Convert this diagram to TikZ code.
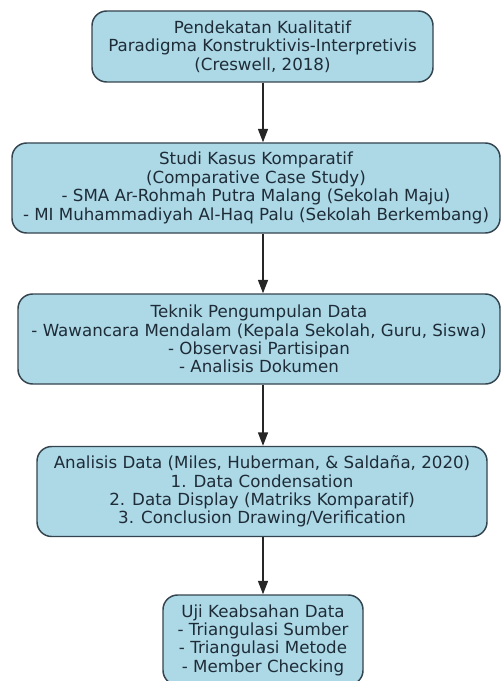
\documentclass[tikz,border=0pt]{standalone}
\usepackage{fontspec}
\setmainfont{DejaVu Sans}
\usetikzlibrary{arrows.meta}
\definecolor{boxfill}{HTML}{ADD8E6}
\definecolor{boxline}{HTML}{34444F}
\definecolor{boxtext}{HTML}{1E2C38}

\begin{document}
\begin{tikzpicture}[x=0.75pt,y=-0.75pt,
    box/.style={draw=boxline, line width=1.1pt, fill=boxfill, rounded corners=11pt,
        align=center, inner sep=0pt, text=boxtext, minimum height=67.5pt,
        font=\fontsize{12.5}{13.8}\selectfont},
    arr/.style={-{Triangle[length=10pt,width=7.5pt]}, line width=0.9pt, draw=black!85}
    ]
    \useasboundingbox (0,0) rectangle (501,681);
    \node[box, minimum width=255.75pt, minimum height=53.25pt] (pendekatan) at (262.5,46.5)
        {Pendekatan Kualitatif\\Paradigma Konstruktivis-Interpretivis\\(Creswell, 2018)};
    \node[box, minimum width=366pt] (studi) at (256,188)
        {Studi Kasus Komparatif\\(Comparative Case Study)\\- SMA Ar-Rohmah Putra Malang (Sekolah Maju)\\- MI Muhammadiyah Al-Haq Palu (Sekolah Berkembang)};
    \node[box, minimum width=361.5pt] (teknik) at (259,339)
        {Teknik Pengumpulan Data\\- Wawancara Mendalam (Kepala Sekolah, Guru, Siswa)\\- Observasi Partisipan\\- Analisis Dokumen};
    \node[box, minimum width=337.5pt] (analisis) at (262,491.5)
        {Analisis Data (Miles, Huberman, \& Saldaña, 2020)\\1. Data Condensation\\2. Data Display (Matriks Komparatif)\\3. Conclusion Drawing/Verification};
    \node[box, minimum width=150pt] (uji) at (263,640)
        {Uji Keabsahan Data\\- Triangulasi Sumber\\- Triangulasi Metode\\- Member Checking};
    \draw[arr] (pendekatan.south -| 263,0) -- (studi.north -| 263,0);
    \draw[arr] (studi.south -| 263,0) -- (teknik.north -| 263,0);
    \draw[arr] (teknik.south -| 263,0) -- (analisis.north -| 263,0);
    \draw[arr] (analisis.south -| 263,0) -- (uji.north -| 263,0);
\end{tikzpicture}
\end{document}
